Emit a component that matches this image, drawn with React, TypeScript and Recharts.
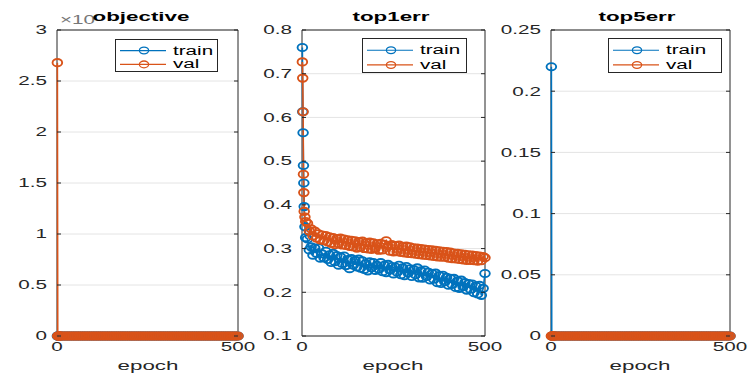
import { LineChart, Line, XAxis, YAxis, CartesianGrid, ReferenceArea, Legend } from 'recharts';

const FONT = '"Liberation Sans", Arial, Helvetica, sans-serif';
const SX = 1.72; // the source figure is stretched sideways
const TRAIN_COLOR = '#0072BD';
const VAL_COLOR = '#D95319';
const INK = '#262626';
const TOP = 30;
const BOTTOM = 336;
const H = 376;

// epochs sampled from the training log
const epochs = [
  1, 2, 3, 4, 5, 6, 8, 10,
  15, 20, 25, 30, 35, 40, 45, 50, 55, 60,
  65, 70, 75, 80, 85, 90, 95, 100, 105, 110,
  115, 120, 125, 130, 135, 140, 145, 150, 155, 160,
  165, 170, 175, 180, 185, 190, 195, 200, 205, 210,
  215, 220, 225, 230, 235, 240, 245, 250, 255, 260,
  265, 270, 275, 280, 285, 290, 295, 300, 305, 310,
  315, 320, 325, 330, 335, 340, 345, 350, 355, 360,
  365, 370, 375, 380, 385, 390, 395, 400, 405, 410,
  415, 420, 425, 430, 435, 440, 445, 450, 455, 460,
  465, 470, 475, 480, 485, 490, 495, 500,
];

const zeroTail = [
  0, 0, 0, 0, 0, 0, 0, 0, 0, 0,
  0, 0, 0, 0, 0, 0, 0, 0, 0, 0,
  0, 0, 0, 0, 0, 0, 0, 0, 0, 0,
  0, 0, 0, 0, 0, 0, 0, 0, 0, 0,
  0, 0, 0, 0, 0, 0, 0, 0, 0, 0,
  0, 0, 0, 0, 0, 0, 0, 0, 0, 0,
  0, 0, 0, 0, 0, 0, 0, 0, 0, 0,
  0, 0, 0, 0, 0, 0, 0, 0, 0, 0,
  0, 0, 0, 0, 0, 0, 0, 0, 0, 0,
  0, 0, 0, 0, 0, 0, 0, 0, 0, 0,
  0, 0, 0, 0, 0,
];

const objectiveTrain = [0, ...zeroTail];
const objectiveVal = [2.68, ...zeroTail];
const objectiveTicks = [0, 0.5, 1, 1.5, 2, 2.5, 3];

const top1Train = [
  0.76, 0.613, 0.565, 0.49, 0.45, 0.396, 0.35, 0.325,
  0.322, 0.297, 0.304, 0.285, 0.301, 0.289, 0.302, 0.278, 0.288, 0.279,
  0.294, 0.275, 0.286, 0.268, 0.289, 0.27, 0.284, 0.262, 0.281, 0.266,
  0.283, 0.261, 0.275, 0.254, 0.277, 0.262, 0.273, 0.258, 0.276, 0.255,
  0.272, 0.252, 0.266, 0.249, 0.27, 0.256, 0.268, 0.25, 0.262, 0.253,
  0.268, 0.247, 0.262, 0.245, 0.264, 0.251, 0.259, 0.242, 0.258, 0.246,
  0.262, 0.24, 0.256, 0.238, 0.259, 0.244, 0.254, 0.236, 0.252, 0.24,
  0.256, 0.233, 0.249, 0.232, 0.251, 0.236, 0.246, 0.228, 0.243, 0.23,
  0.244, 0.222, 0.238, 0.22, 0.239, 0.224, 0.234, 0.216, 0.232, 0.218,
  0.232, 0.211, 0.226, 0.209, 0.228, 0.213, 0.222, 0.205, 0.22, 0.207,
  0.219, 0.199, 0.214, 0.196, 0.216, 0.193, 0.209, 0.243,
];
const top1Val = [
  0.727, 0.69, 0.613, 0.47, 0.428, 0.385, 0.372, 0.362,
  0.358, 0.34, 0.345, 0.329, 0.34, 0.324, 0.334, 0.32, 0.331, 0.318,
  0.33, 0.315, 0.327, 0.312, 0.325, 0.309, 0.323, 0.311, 0.324, 0.308,
  0.322, 0.307, 0.32, 0.305, 0.319, 0.304, 0.318, 0.301, 0.316, 0.303,
  0.317, 0.3, 0.314, 0.299, 0.315, 0.298, 0.313, 0.3, 0.311, 0.296,
  0.312, 0.297, 0.31, 0.318, 0.306, 0.294, 0.309, 0.292, 0.307, 0.293,
  0.308, 0.291, 0.305, 0.29, 0.306, 0.289, 0.304, 0.288, 0.302, 0.287,
  0.301, 0.286, 0.3, 0.285, 0.299, 0.284, 0.298, 0.283, 0.297, 0.282,
  0.296, 0.281, 0.295, 0.28, 0.294, 0.28, 0.293, 0.278, 0.292, 0.277,
  0.29, 0.276, 0.289, 0.275, 0.288, 0.274, 0.287, 0.273, 0.286, 0.273,
  0.285, 0.272, 0.284, 0.271, 0.283, 0.272, 0.282, 0.279,
];
const top1Ticks = [0.1, 0.2, 0.3, 0.4, 0.5, 0.6, 0.7, 0.8];

const top5Train = [0.22, ...zeroTail];
const top5Val = [0, ...zeroTail];
const top5Ticks = [0, 0.05, 0.1, 0.15, 0.2, 0.25];

const xTicks = [0, 500];
const titles = ['objective', 'top1err', 'top5err'];
const seriesNames = ['train', 'val'];

function ring(color: string) {
  return (p: any) => (
    <ellipse
      key={`${color}-${p.index}`}
      cx={p.cx}
      cy={p.cy}
      rx={4.8}
      ry={3.6}
      fill="none"
      stroke={color}
      strokeWidth={1.9}
    />
  );
}

function StretchText({ x, y, size, anchor = 'middle', weight = 'normal', fill = INK, children }: any) {
  return (
    <text
      transform={`translate(${x} ${y}) scale(${SX} 1)`}
      textAnchor={anchor}
      fontSize={size}
      fontWeight={weight}
      fontFamily={FONT}
      fill={fill}
    >
      {children}
    </text>
  );
}

function YTick({ y, payload, l, r }: any) {
  return (
    <g>
      <StretchText x={l - 10} y={y + 4.3} size={12} anchor="end">
        {String(payload.value)}
      </StretchText>
      <line x1={l} x2={l + 4} y1={y} y2={y} stroke={INK} />
      <line x1={r - 4} x2={r} y1={y} y2={y} stroke={INK} />
    </g>
  );
}

function XTick({ x, payload }: any) {
  return (
    <StretchText x={x} y={351} size={12}>
      {String(payload.value)}
    </StretchText>
  );
}

function LegendBox({ w, h }: { w: number; h: number }) {
  const colors = [TRAIN_COLOR, VAL_COLOR];
  return (
    <svg width={w} height={h} style={{ display: 'block' }}>
      <rect x={0.5} y={0.5} width={w - 1} height={h - 1} fill="#fff" stroke={INK} strokeWidth={1} />
      {seriesNames.map((name, i) => {
        const y = i === 0 ? h * 0.35 : h * 0.77;
        return (
          <g key={name}>
            <line x1={5} x2={51} y1={y} y2={y} stroke={colors[i]} strokeWidth={1.2} />
            <ellipse cx={29} cy={y} rx={4.6} ry={3.4} fill="none" stroke={colors[i]} strokeWidth={1.3} />
            <StretchText x={58} y={y + 4} size={12} anchor="start" fill="#000">
              {name}
            </StretchText>
          </g>
        );
      })}
    </svg>
  );
}

function Panel({ left, width, plotLeft, plotRight, train, val, domain, ticks, legend }: any) {
  const data = epochs.map((epoch, i) => ({ epoch, train: train[i], val: val[i] }));
  const yw = plotLeft - left;
  const localRight = plotRight - left;
  return (
    <div style={{ position: 'absolute', left, top: 0 }}>
      <LineChart
        width={width}
        height={H}
        data={data}
        margin={{ top: TOP, right: left + width - plotRight, bottom: 0, left: 0 }}
      >
        <CartesianGrid vertical={false} stroke="#e4e4e4" />
        <XAxis
          type="number"
          dataKey="epoch"
          domain={[0, 500]}
          ticks={xTicks}
          interval={0}
          height={H - BOTTOM}
          axisLine={false}
          tickLine={false}
          tick={(p: any) => <XTick {...p} />}
        />
        <YAxis
          type="number"
          domain={domain}
          ticks={ticks}
          interval={0}
          width={yw}
          axisLine={false}
          tickLine={false}
          tick={(p: any) => <YTick {...p} l={yw} r={localRight} />}
        />
        <Line
          type="linear"
          dataKey="train"
          stroke={TRAIN_COLOR}
          strokeWidth={1.6}
          dot={ring(TRAIN_COLOR)}
          activeDot={false}
          isAnimationActive={false}
        />
        <Line
          type="linear"
          dataKey="val"
          stroke={VAL_COLOR}
          strokeWidth={1.6}
          dot={ring(VAL_COLOR)}
          activeDot={false}
          isAnimationActive={false}
        />
        <ReferenceArea
          x1={0}
          x2={500}
          y1={domain[0]}
          y2={domain[1]}
          fill="none"
          fillOpacity={0}
          stroke={INK}
          strokeWidth={1}
        />
        <Legend
          layout="horizontal"
          verticalAlign="middle"
          align="center"
          wrapperStyle={{
            position: 'absolute',
            left: legend.x - left,
            top: legend.y,
            width: legend.w,
            height: legend.h,
          }}
          content={() => <LegendBox w={legend.w} h={legend.h} />}
        />
      </LineChart>
    </div>
  );
}

export default function App() {
  return (
    <div
      style={{
        position: 'absolute',
        left: 0,
        top: 0,
        width: 752,
        height: 376,
        background: '#fff',
        overflow: 'hidden',
        fontFamily: FONT,
      }}
    >
      <Panel
        left={0}
        width={262}
        plotLeft={57}
        plotRight={238}
        train={objectiveTrain}
        val={objectiveVal}
        domain={[0, 3]}
        ticks={objectiveTicks}
        legend={{ x: 115, y: 39, w: 103, h: 33 }}
      />
      <Panel
        left={250}
        width={260}
        plotLeft={302}
        plotRight={485}
        train={top1Train}
        val={top1Val}
        domain={[0.1, 0.8]}
        ticks={top1Ticks}
        legend={{ x: 362, y: 38, w: 105, h: 35 }}
      />
      <Panel
        left={497}
        width={255}
        plotLeft={551}
        plotRight={730}
        train={top5Train}
        val={top5Val}
        domain={[0, 0.25]}
        ticks={top5Ticks}
        legend={{ x: 608, y: 38, w: 114, h: 35 }}
      />
      <svg
        width={752}
        height={376}
        style={{ position: 'absolute', left: 0, top: 0, pointerEvents: 'none' }}
      >
        <StretchText x={60} y={24} size={12} anchor="start" fill="#777">
          ×10
        </StretchText>
        {titles.map((t, i) => (
          <StretchText key={t} x={[141, 391, 637][i]} y={20.5} size={13} weight="bold" fill="#000">
            {t}
          </StretchText>
        ))}
        {titles.map((t) => (
          <StretchText key={`x-${t}`} x={[148, 393, 640][titles.indexOf(t)]} y={370} size={13}>
            epoch
          </StretchText>
        ))}
      </svg>
    </div>
  );
}
